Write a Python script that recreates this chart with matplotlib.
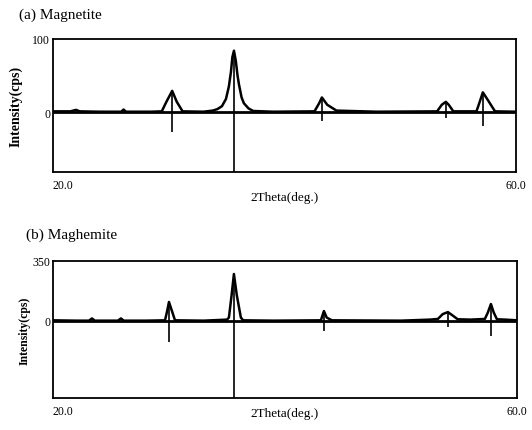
import matplotlib
matplotlib.use('Agg')
import matplotlib.pyplot as plt

plt.rcParams['font.family'] = ['Liberation Serif', 'DejaVu Serif']

# (a) Magnetite pattern
a_two_theta = [20.0, 21.5, 22.0, 22.3, 24.0, 25.9, 26.1, 26.3, 28.5, 29.4,
               29.8, 30.3, 30.7, 31.2, 33.0, 33.8, 34.2, 34.6, 34.95, 35.2,
               35.38, 35.5, 35.64, 35.8, 35.95, 36.07, 36.3, 36.5, 36.9, 37.3,
               39.0, 42.6, 43.0, 43.24, 43.7, 44.5, 48.0, 53.2, 53.6, 53.95,
               54.2, 54.6, 56.6, 56.9, 57.15, 57.6, 58.2, 60.0]
a_intensity = [1, 1, 3, 1, 0.5, 0.5, 3.5, 0.5, 0.5, 1,
               14, 29, 14, 1, 0.5, 2, 4, 8, 18, 35,
               55, 75, 84, 70, 50, 38, 20, 12, 5, 1.5,
               0.5, 1, 12, 20, 10, 2, 0.5, 1, 10, 14,
               10, 1, 1, 15, 27, 16, 1, 0.5]
a_sticks = [30.28, 35.64, 43.24, 53.95, 57.15]
a_stick_top = [29, 84, 20, 14, 27]
a_stick_bottom = [-27, -100, -12, -8, -19]

# (b) Maghemite pattern
b_two_theta = [20.0, 22.0, 23.1, 23.36, 23.6, 25.6, 25.86, 26.1, 28.0, 29.66,
               29.85, 30.0, 30.25, 30.52, 33.0, 35.0, 35.17, 35.4, 35.6, 35.85,
               36.2, 36.4, 39.0, 43.1, 43.36, 43.6, 44.05, 50.0, 52.5, 53.19,
               53.6, 54.05, 54.4, 54.9, 56.0, 57.24, 57.5, 57.76, 58.0, 58.28,
               59.0, 60.0]
b_intensity = [4, 2, 2, 15, 2, 2, 15, 2, 2, 4,
               60, 111, 60, 4, 2, 8, 20, 150, 274, 150,
               20, 4, 2, 4, 58, 20, 4, 2, 8, 12,
               40, 52, 35, 10, 8, 12, 50, 99, 50, 10,
               8, 4]
b_sticks = [30.0, 35.6, 43.36, 54.05, 57.76]
b_stick_top = [111, 274, 58, 52, 99]
b_stick_bottom = [-122, -500, -58, -35, -87]

panels = [
    ('(a) Magnetite', a_two_theta, a_intensity, a_sticks, a_stick_top,
     a_stick_bottom, (-82, 100), '100'),
    ('(b) Maghemite', b_two_theta, b_intensity, b_sticks, b_stick_top,
     b_stick_bottom, (-449, 350), '350'),
]

fig = plt.figure(figsize=(5.32, 4.31), dpi=100)
rects = [[0.0996, 0.5986, 0.870, 0.3086], [0.0996, 0.0742, 0.872, 0.318]]
title_y = [0.965, 0.455]
xlabel_y = [1 - 198 / 431, 1 - 414 / 431]
ylabel_x = [0.03, 0.047]
ylabel_size = [10, 8.5]

for i, (title, x, y, sx, stop, sbot, ylim, ytop) in enumerate(panels):
    ax = fig.add_axes(rects[i])
    ax.plot(x, y, color='black', linewidth=1.8)
    ax.axhline(0, color='black', linewidth=2.0)
    ax.vlines(sx, sbot, stop, color='black', linewidth=1.2)
    ax.set_xlim(20, 60)
    ax.set_ylim(*ylim)
    ax.set_xticks([20, 60])
    ax.set_xticklabels(['20.0', '60.0'], fontsize=8.5)
    ax.get_xticklabels()[0].set_ha('left')
    ax.set_yticks([0, ylim[1]])
    ax.set_yticklabels(['0', ytop], fontsize=8.5)
    ax.tick_params(length=0, pad=5)
    ax.tick_params(axis='y', pad=2)
    for sp in ax.spines.values():
        sp.set_linewidth(1.3)
    fig.text(0.535, xlabel_y[i], '2Theta(deg.)', fontsize=9.5,
             ha='center', va='center')
    fig.text(ylabel_x[i], rects[i][1] + rects[i][3] / 2, 'Intensity(cps)',
             rotation=90, ha='center', va='center',
             fontsize=ylabel_size[i], fontweight='bold')
    fig.text(0.035 + 0.013 * i, title_y[i], title, fontsize=11,
             ha='left', va='center')

fig.savefig('out.png', dpi=100)
